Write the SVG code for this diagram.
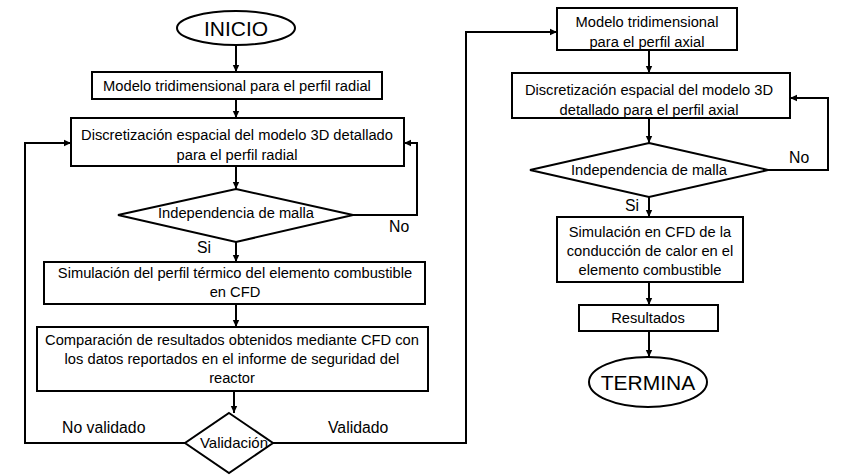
<svg xmlns="http://www.w3.org/2000/svg" width="846" height="476" viewBox="0 0 846 476">
<defs>
<marker id="ah" markerWidth="8" markerHeight="8" refX="7" refY="4" orient="auto" markerUnits="userSpaceOnUse">
<path d="M0,0.8 L7,4 L0,7.2 Z" fill="#000"/>
</marker>
<style>
.b{fill:#fff;stroke:#000;stroke-width:2}
.t{font-family:"Liberation Sans",Arial,sans-serif;font-size:14.7px;fill:#000;text-anchor:middle}
.l{font-family:"Liberation Sans",Arial,sans-serif;font-size:15.8px;fill:#000}
.big{font-family:"Liberation Sans",Arial,sans-serif;font-size:21px;fill:#000;text-anchor:middle}
.c{fill:none;stroke:#000;stroke-width:2;marker-end:url(#ah)}
</style>
</defs>
<rect width="846" height="476" fill="#fff"/>
<g id="connectors">
<path class="c" d="M236,45 V72"/>
<path class="c" d="M236,99 V118"/>
<path class="c" d="M236,166 V189"/>
<path class="c" d="M353,215 H417 V143 H404"/>
<path class="c" d="M236,242 V262"/>
<path class="c" d="M236,304 V327"/>
<path class="c" d="M234,391 V413"/>
<path class="c" d="M185,443 H25 V143 H71"/>
<path class="c" d="M273,443 H466 V32 H557"/>
<path class="c" d="M649,50 V73"/>
<path class="c" d="M649,118 V143"/>
<path class="c" d="M768,170 H828 V98 H790"/>
<path class="c" d="M649,197 V217"/>
<path class="c" d="M649,282 V305"/>
<path class="c" d="M649,331 V357"/>
<text class="l" x="389" y="232">No</text>
<text class="l" x="197" y="253">Si</text>
<text class="l" x="62" y="433">No validado</text>
<text class="l" x="328" y="433">Validado</text>
<text class="l" x="789" y="163">No</text>
<text class="l" x="625" y="211">Si</text>
</g>
<g id="inicio">
<ellipse class="b" cx="236" cy="28" rx="59" ry="17"/>
<text class="big" x="236" y="36">INICIO</text>
</g>
<g id="modelo-radial">
<rect class="b" x="92" y="72" width="290" height="27"/>
<text class="t" x="237" y="91">Modelo tridimensional para el perfil radial</text>
</g>
<g id="discretizacion-radial">
<rect class="b" x="71" y="118" width="333" height="48"/>
<text class="t" x="237" y="140">Discretización espacial del modelo 3D detallado</text>
<text class="t" x="237" y="160">para el perfil radial</text>
</g>
<g id="independencia-radial">
<polygon class="b" points="236,189 353,215 236,242 118,215"/>
<text class="t" x="236" y="218">Independencia de malla</text>
</g>
<g id="simulacion-termico">
<rect class="b" x="44" y="262" width="381" height="42"/>
<text class="t" x="235" y="278">Simulación del perfil térmico del elemento combustible</text>
<text class="t" x="235" y="297">en CFD</text>
</g>
<g id="comparacion">
<rect class="b" x="37" y="327" width="391" height="64"/>
<text class="t" x="232" y="345">Comparación de resultados obtenidos mediante CFD con</text>
<text class="t" x="232" y="364">los datos reportados en el informe de seguridad del</text>
<text class="t" x="232" y="383">reactor</text>
</g>
<g id="validacion">
<polygon class="b" points="229,413 273,443 229,473 185,443"/>
<text class="t" x="234" y="448" style="font-size:15px">Validación</text>
</g>
<g id="modelo-axial">
<rect class="b" x="557" y="8" width="180" height="42"/>
<text class="t" x="647" y="27">Modelo tridimensional</text>
<text class="t" x="647" y="47">para el perfil axial</text>
</g>
<g id="discretizacion-axial">
<rect class="b" x="512" y="73" width="278" height="45"/>
<text class="t" x="649" y="95">Discretización espacial del modelo 3D</text>
<text class="t" x="649" y="115">detallado para el perfil axial</text>
</g>
<g id="independencia-axial">
<polygon class="b" points="649,143 768,170 649,197 530,170"/>
<text class="t" x="649" y="175">Independencia de malla</text>
</g>
<g id="simulacion-conduccion">
<rect class="b" x="557" y="217" width="186" height="65"/>
<text class="t" x="650" y="237">Simulación en CFD de la</text>
<text class="t" x="650" y="256">conducción de calor en el</text>
<text class="t" x="650" y="275">elemento combustible</text>
</g>
<g id="resultados">
<rect class="b" x="579" y="305" width="139" height="26"/>
<text class="t" x="648" y="323">Resultados</text>
</g>
<g id="termina">
<ellipse class="b" cx="648" cy="382" rx="59" ry="25"/>
<text class="big" x="648" y="390">TERMINA</text>
</g>
</svg>
